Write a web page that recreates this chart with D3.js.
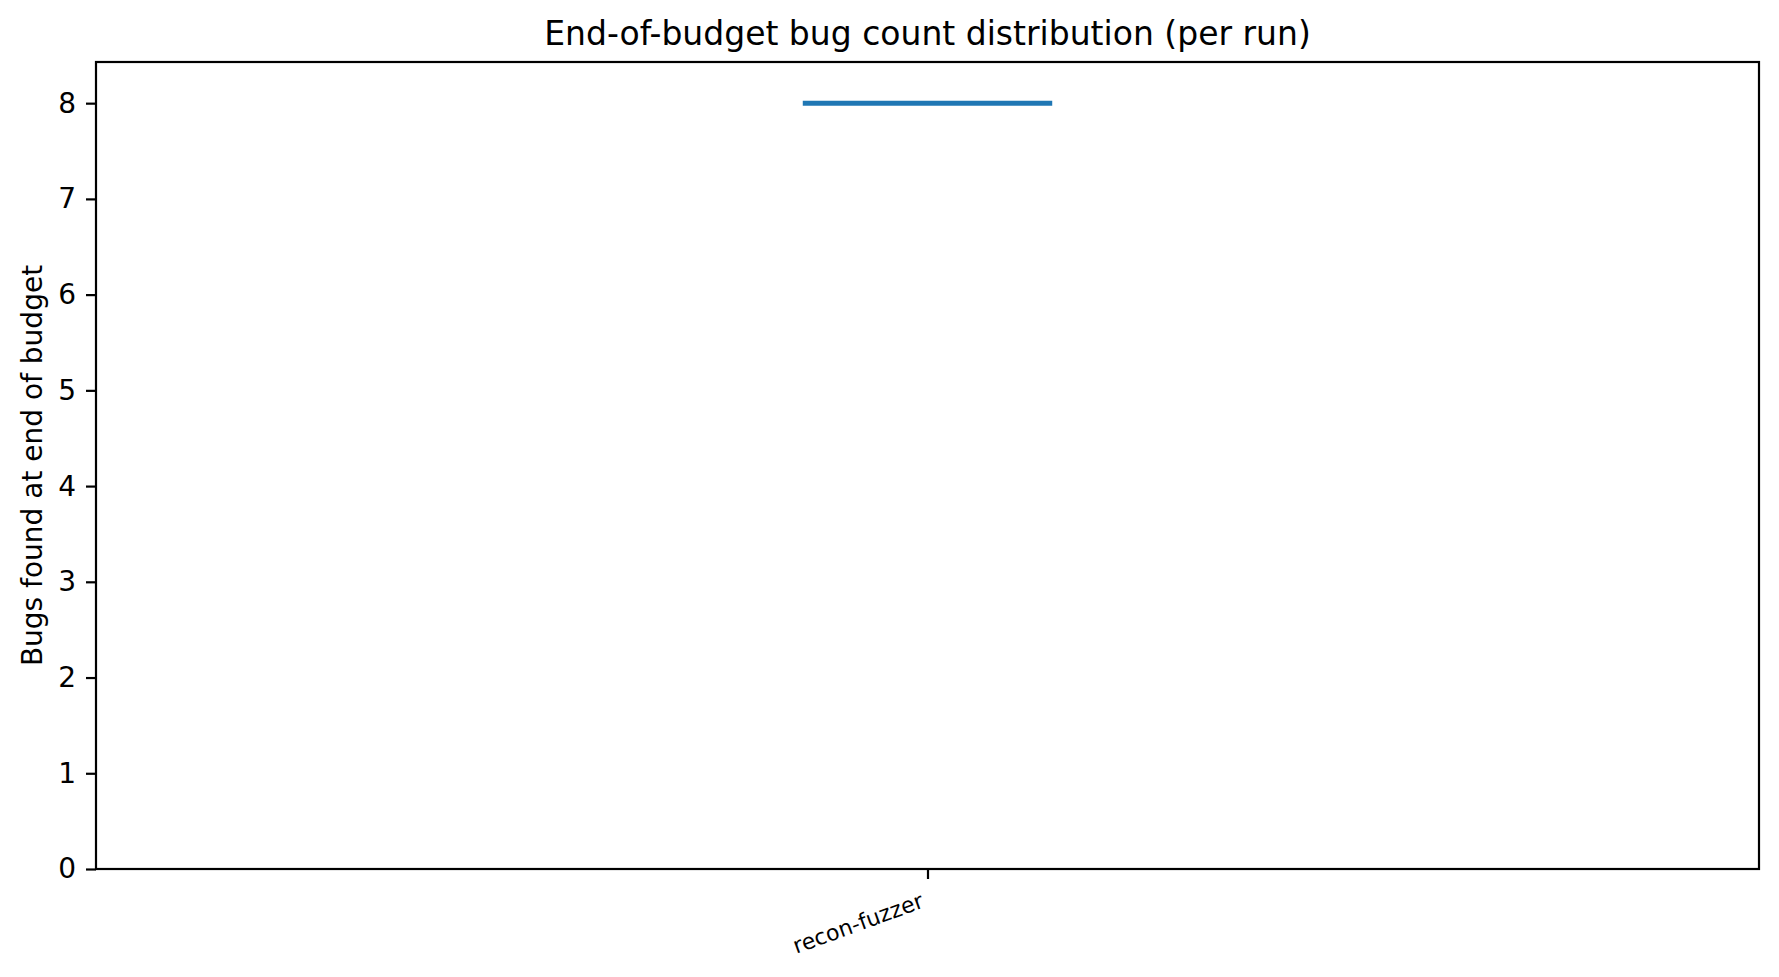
<!DOCTYPE html>
<html>
<head>
<meta charset="utf-8">
<script src="https://cdn.jsdelivr.net/npm/d3@7"></script>
<style>
  html, body { margin: 0; padding: 0; background: #fff; }
  text { font-family: "DejaVu Sans", sans-serif; fill: #000; }
</style>
</head>
<body>
<div id="chart"></div>
<script>
// tools on the x axis
var tools = ["recon-fuzzer"];
// bug count at end of budget, one value per run
var bugCounts = [[8, 8, 8, 8, 8]];
var yTicks = [0, 1, 2, 3, 4, 5, 6, 7, 8];

var W = 1779, H = 977;
var margin = { top: 62, right: 20, bottom: 108, left: 96 };
var iw = W - margin.left - margin.right,
    ih = H - margin.top - margin.bottom;

var svg = d3.select("#chart").append("svg")
  .attr("width", W)
  .attr("height", H);

var g = svg.append("g")
  .attr("transform", "translate(" + margin.left + "," + margin.top + ")");

var x = d3.scaleLinear().domain([0.5, tools.length + 0.5]).range([0, iw]);
var y = d3.scaleLinear().domain([0, 8.43]).range([ih, 0]);
var boxW = 0.15;

// y axis
var yAxis = g.append("g")
  .call(d3.axisLeft(y).tickValues(yTicks).tickSize(10).tickPadding(10).tickFormat(d3.format("d")));
yAxis.select(".domain").remove();
yAxis.selectAll("line").attr("stroke", "#000").attr("stroke-width", 2.2);
yAxis.selectAll("text").style("font-size", "28px").style("font-family", "DejaVu Sans");

// x axis
var xAxis = g.append("g")
  .attr("transform", "translate(0," + ih + ")")
  .call(d3.axisBottom(x).tickValues(d3.range(1, tools.length + 1)).tickSize(10).tickFormat(function (d) { return tools[d - 1]; }));
xAxis.select(".domain").remove();
xAxis.selectAll("line").attr("stroke", "#000").attr("stroke-width", 2.2);
xAxis.selectAll("text")
  .style("font-size", "22px")
  .style("font-family", "DejaVu Sans")
  .attr("text-anchor", "end")
  .attr("dy", null)
  .attr("y", 0)
  .attr("transform", "translate(-3,38) rotate(-20)");

// boxes
tools.forEach(function (t, i) {
  var vals = bugCounts[i].slice().sort(d3.ascending);
  var q1 = d3.quantile(vals, 0.25),
      med = d3.quantile(vals, 0.5),
      q3 = d3.quantile(vals, 0.75),
      iqr = q3 - q1;
  var lo = d3.min(vals.filter(function (v) { return v >= q1 - 1.5 * iqr; })),
      hi = d3.max(vals.filter(function (v) { return v <= q3 + 1.5 * iqr; }));
  var pos = i + 1;
  var x0 = x(pos - boxW / 2), x1 = x(pos + boxW / 2);
  var c0 = x(pos - boxW / 4), c1 = x(pos + boxW / 4);

  var bg = g.append("g");
  // whiskers
  bg.append("line").attr("x1", x(pos)).attr("x2", x(pos)).attr("y1", y(q1)).attr("y2", y(lo))
    .attr("stroke", "#000").attr("stroke-width", 2);
  bg.append("line").attr("x1", x(pos)).attr("x2", x(pos)).attr("y1", y(q3)).attr("y2", y(hi))
    .attr("stroke", "#000").attr("stroke-width", 2);
  // caps
  [lo, hi].forEach(function (v) {
    bg.append("line").attr("x1", c0).attr("x2", c1).attr("y1", y(v)).attr("y2", y(v))
      .attr("stroke", "#000").attr("stroke-width", 2);
  });
  // box
  bg.append("rect").attr("x", x0).attr("y", y(q3)).attr("width", x1 - x0).attr("height", y(q1) - y(q3))
    .attr("fill", "none").attr("stroke", "#000").attr("stroke-width", 2);
  // median
  bg.append("line").attr("x1", x0).attr("x2", x1).attr("y1", y(med)).attr("y2", y(med))
    .attr("stroke", "#1f77b4").attr("stroke-width", 5);
});

// frame
g.append("rect")
  .attr("x", 0).attr("y", 0).attr("width", iw).attr("height", ih)
  .attr("fill", "none").attr("stroke", "#000").attr("stroke-width", 2.2);

// title
svg.append("text")
  .attr("x", margin.left + iw / 2)
  .attr("y", 45)
  .attr("text-anchor", "middle")
  .style("font-size", "33px")
  .text("End-of-budget bug count distribution (per run)");

// y label
svg.append("text")
  .attr("transform", "translate(42," + (margin.top + ih / 2) + ") rotate(-90)")
  .attr("text-anchor", "middle")
  .style("font-size", "28px")
  .text("Bugs found at end of budget");
</script>
</body>
</html>
